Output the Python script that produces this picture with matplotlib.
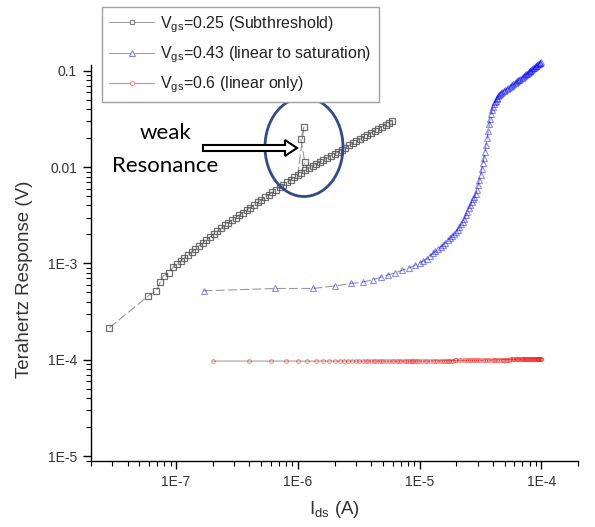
import numpy as np
import matplotlib
matplotlib.use('Agg')
import matplotlib.pyplot as plt
from matplotlib.patches import Ellipse, FancyArrow
from matplotlib.lines import Line2D
from matplotlib.ticker import FixedLocator, FixedFormatter, LogLocator, NullFormatter

plt.rcParams['font.family'] = ['Liberation Sans', 'DejaVu Sans']
plt.rcParams['mathtext.fontset'] = 'custom'
plt.rcParams['mathtext.rm'] = 'Liberation Sans'

# Vgs = 0.25 (subthreshold): Ids in 1e-7 A, response in 1e-3 V
ids_025 = [0.283, 0.59, 0.69, 0.74, 0.79, 0.88, 0.95,
           1.02, 1.09, 1.17, 1.25, 1.34, 1.44, 1.54, 1.65, 1.77, 1.90,
           2.04, 2.18, 2.34, 2.51, 2.69, 2.88, 3.09, 3.31, 3.55, 3.80,
           4.07, 4.37, 4.68, 5.01, 5.37, 5.75, 6.17, 6.61, 7.08, 7.59,
           8.13, 8.71, 9.33, 10.0,
           11.2, 10.6, 11.4,
           10.7, 11.5, 12.3, 13.2, 14.1, 15.1, 16.2, 17.4, 18.6, 20.0,
           21.4, 22.9, 24.5, 26.3, 28.2, 30.2, 32.4, 34.7, 37.2, 39.8,
           42.7, 45.7, 49.0, 52.5, 56.2, 58.9]
resp_025 = [0.215, 0.46, 0.52, 0.64, 0.75, 0.80, 0.927,
            0.996, 1.066, 1.146, 1.226, 1.316, 1.416, 1.517, 1.627, 1.748, 1.879,
            2.020, 2.162, 2.323, 2.495, 2.657, 2.819, 2.998, 3.182, 3.381, 3.589,
            3.809, 4.052, 4.300, 4.563, 4.848, 5.145, 5.470, 5.807, 6.165, 6.551,
            6.955, 7.385, 7.841, 8.33,
            26.0, 19.4, 11.3,
            8.79, 9.26, 9.72, 10.23, 10.72, 11.26, 11.85, 12.47, 13.09, 13.79,
            14.48, 15.20, 15.96, 16.80, 17.66, 18.56, 19.52, 20.50, 21.56, 22.63,
            23.80, 25.00, 26.29, 27.63, 29.02, 30.02]

# Vgs = 0.43 (linear to saturation): Ids in 1e-6 A, response in 1e-3 V
ids_043 = [0.168, 0.65, 1.33, 2.0, 2.74, 3.44, 4.13, 4.8, 5.5, 6.3, 7.2, 8.2, 9.2,
           10.0, 10.7, 11.4, 12.1, 12.8, 13.5, 14.2, 14.9, 15.6, 16.3,
           17.0, 17.7, 18.4, 19.1, 19.8, 20.5, 21.2, 21.9, 22.6, 23.3,
           24.0, 24.7, 25.4, 26.1, 26.8, 27.5, 28.2, 28.9, 29.6, 30.3,
           31.0, 31.7, 32.4, 33.1, 33.8, 34.5, 35.2, 35.9, 36.6, 37.3,
           38.0, 38.7, 39.4, 40.1, 40.8, 41.5, 42.2, 42.9, 43.6, 44.3,
           45.0, 45.7, 46.4,
           47.8, 49.2, 50.6, 52.0, 53.4, 54.8, 56.2, 57.6, 59.0, 60.4,
           61.8, 63.2, 64.6, 66.0, 67.4, 68.8, 70.2, 71.6, 73.0, 74.4,
           75.8, 77.2, 78.6, 80.0, 81.4, 82.8, 84.2, 85.6, 87.0, 88.4,
           89.8, 91.2, 92.6, 94.0, 95.4, 96.8, 98.2, 99.0]
resp_043 = [0.52, 0.55, 0.55, 0.585, 0.62, 0.64, 0.68, 0.72, 0.76, 0.80, 0.85, 0.90, 0.96,
            1.01, 1.06, 1.12, 1.20, 1.27, 1.34, 1.42, 1.49, 1.56, 1.65,
            1.74, 1.83, 1.92, 2.00, 2.12, 2.25, 2.39, 2.55, 2.70, 2.92,
            3.15, 3.45, 3.75, 4.05, 4.35, 4.65, 4.95, 5.25, 5.8, 6.5,
            7.4, 8.3, 9.5, 11.0, 12.5, 14.5, 17.0, 20.0, 23.5, 28.0,
            32.0, 36.0, 39.5, 42.5, 45.0, 47.0, 48.5, 50.5, 52.5, 54.5,
            56.5, 58.0, 59.0,
            60.5, 62.0, 63.5, 65.0, 66.5, 68.0, 69.5, 71.0, 72.5, 74.0,
            76.0, 78.0, 79.5, 81.0, 83.0, 85.0, 86.5, 88.0, 90.0, 92.0,
            93.5, 95.0, 97.0, 98.5, 100, 102, 104, 106, 108, 109,
            111, 113, 115, 117, 119, 121, 122, 123]

# Vgs = 0.6 (linear only): Ids in 1e-6 A, response in 1e-4 V
ids_06 = [0.2, 0.4, 0.6, 0.8, 1.0, 1.2, 1.4, 1.6, 1.8, 2.0, 2.2, 2.4, 2.6, 2.8,
          3.0, 3.2, 3.4, 3.6, 3.8, 4.0, 4.2, 4.4, 4.6, 4.8, 5.0, 5.3, 5.6, 5.9,
          6.2, 6.5, 6.8, 7.1, 7.4, 7.7, 8.0, 8.3, 8.6, 8.9, 9.2, 9.5, 9.8,
          10.4, 11.0, 11.6, 12.2, 12.8, 13.4, 14.0, 14.6, 15.2, 15.8, 16.4,
          17.0, 17.6, 18.2, 18.8, 19.4, 20, 21, 22, 23, 24, 25, 26, 27, 28, 29, 30,
          31.5, 33, 34.5, 36, 37.5, 39, 40.5, 42, 43.5, 45, 46.5, 48, 49.5,
          51, 52.5, 54, 55.5, 57, 58.5, 60, 61.5, 63, 64.5, 66, 67.5, 69,
          70.5, 72, 73.5, 75, 76.5, 78, 79.5, 81, 82.5, 84, 85.5, 87, 88.5,
          90, 91.5, 93, 94.5, 96, 97.5, 99, 100]
resp_06 = [0.97, 0.97, 0.97, 0.97, 0.97, 0.97, 0.97, 0.97, 0.97, 0.97, 0.97, 0.97, 0.97, 0.97,
           0.97, 0.97, 0.97, 0.97, 0.97, 0.97, 0.97, 0.97, 0.97, 0.97, 0.97, 0.97, 0.97, 0.97,
           0.97, 0.97, 0.97, 0.97, 0.97, 0.97, 0.97, 0.97, 0.97, 0.97, 0.97, 0.97, 0.97,
           0.97, 0.97, 0.97, 0.97, 0.975, 0.975, 0.975, 0.975, 0.975, 0.98, 0.98,
           0.98, 0.98, 0.98, 0.98, 0.985, 0.985, 0.985, 0.985, 0.985, 0.985, 0.99, 0.99,
           0.99, 0.99, 0.99, 0.99,
           0.99, 0.99, 0.995, 0.995, 0.995, 0.995, 1.0, 1.0, 1.0, 1.0, 1.0, 1.005, 1.005,
           1.005, 1.005, 1.005, 1.01, 1.01, 1.01, 1.01, 1.01, 1.01, 1.015, 1.015, 1.015,
           1.015, 1.015, 1.015, 1.02, 1.02, 1.02, 1.02, 1.02, 1.02, 1.02, 1.025, 1.025,
           1.025, 1.025, 1.025, 1.025, 1.025, 1.03, 1.03, 1.03, 1.03, 1.03]

labels = [r'V$_{\rm gs}$=0.25 (Subthreshold)',
          r'V$_{\rm gs}$=0.43 (linear to saturation)',
          r'V$_{\rm gs}$=0.6 (linear only)']
x_ticks = [1e-7, 1e-6, 1e-5, 1e-4]
x_ticklabels = ['1E-7', '1E-6', '1E-5', '1E-4']
y_ticks = [1e-5, 1e-4, 1e-3, 1e-2, 1e-1]
y_ticklabels = ['1E-5', '1E-4', '1E-3', '0.01', '0.1']

W, H = 595, 527
fig = plt.figure(figsize=(W / 100, H / 100), dpi=100)
ax = fig.add_axes([91 / W, 1 - 461 / H, (578 - 91) / W, (461 - 65) / H])

line_kw = dict(color='#9a9a9a', lw=0.8, ls=(0, (8, 3)))
ax.plot(np.array(ids_025) * 1e-7, np.array(resp_025) * 1e-3, marker='s', ms=4.4,
        mfc='none', mec=(0.3, 0.3, 0.3, 0.8), mew=0.9, zorder=3, **line_kw)
ax.plot(np.array(ids_043) * 1e-6, np.array(resp_043) * 1e-3, marker='^', ms=4.8,
        mfc='none', mec=(0, 0, 1, 0.45), mew=0.8, zorder=3, clip_on=False, **line_kw)
ax.plot(np.array(ids_06) * 1e-6, np.array(resp_06) * 1e-4, marker='o', ms=2.8,
        mfc='none', mec=(1, 0, 0, 0.4), mew=0.8, zorder=3, color='#a0a0a0', lw=0.8)

ax.set_xscale('log')
ax.set_yscale('log')
ax.set_xlim(2e-8, 2e-4)
ax.set_ylim(8.9e-6, 0.115)

ax.xaxis.set_major_locator(FixedLocator(x_ticks))
ax.xaxis.set_major_formatter(FixedFormatter(x_ticklabels))
ax.yaxis.set_major_locator(FixedLocator(y_ticks))
ax.yaxis.set_major_formatter(FixedFormatter(y_ticklabels))
for axis in (ax.xaxis, ax.yaxis):
    axis.set_minor_locator(LogLocator(base=10, subs=np.arange(2, 10), numticks=20))
    axis.set_minor_formatter(NullFormatter())

ax.spines['top'].set_visible(False)
ax.spines['right'].set_visible(False)
for s in ('left', 'bottom'):
    ax.spines[s].set_linewidth(1.0)
ax.tick_params(which='major', direction='out', length=6, width=1.0,
               labelsize=10, labelcolor='#333333', pad=4)
ax.tick_params(which='minor', direction='out', length=3.5, width=0.8)

ax.set_xlabel(r'I$_{\rm ds}$ (A)', fontsize=13.5, color='#333333')
ax.set_ylabel('Terahertz Response (V)', fontsize=13.5, color='#333333')
ax.xaxis.set_label_coords(0.5, -0.095)
ax.yaxis.set_label_coords(-0.12, 0.46)

handles = [
    Line2D([0], [0], color='#a0a0a0', lw=0.8, marker='s', ms=3.5, mfc='white', mec='#808080', mew=0.8),
    Line2D([0], [0], color='#a0a0a0', lw=0.8, marker='^', ms=4, mfc='white', mec='#8080ff', mew=0.8),
    Line2D([0], [0], color='#a0a0a0', lw=0.8, marker='o', ms=3, mfc='white', mec='#ff9090', mew=0.8),
]
leg = fig.legend(handles, labels, loc='upper left', bbox_to_anchor=(102 / W, 1 - 7 / H),
                 bbox_transform=fig.transFigure, borderaxespad=0, fontsize=11.5,
                 frameon=True, fancybox=False, edgecolor='#a0a0a0', framealpha=1,
                 handlelength=2.8, handletextpad=0.4, labelspacing=0.6,
                 borderpad=0.45, labelcolor='#222222')
leg.get_frame().set_linewidth(1.0)

# annotation: ellipse, hollow arrow and text (pixel positions -> inches)
ell = Ellipse((304 / 100, (H - 147) / 100), 0.78, 0.99, transform=fig.dpi_scale_trans,
              fill=False, ec='#2f4b8c', lw=2, zorder=5)
fig.add_artist(ell)
arr = FancyArrow(2.03, (H - 148) / 100, 0.94, 0, width=0.06, head_width=0.16,
                 head_length=0.12, length_includes_head=True, fc='white', ec='black',
                 lw=1.5, transform=fig.dpi_scale_trans, zorder=6)
fig.add_artist(arr)
fig.text(166 / W, 1 - 133 / H, 'weak', fontsize=16, family=['Lato', 'DejaVu Sans'],
         ha='center', va='center')
fig.text(165.5 / W, 1 - 166 / H, 'Resonance', fontsize=16, family=['Lato', 'DejaVu Sans'],
         ha='center', va='center')

fig.savefig('out.png', dpi=100)
